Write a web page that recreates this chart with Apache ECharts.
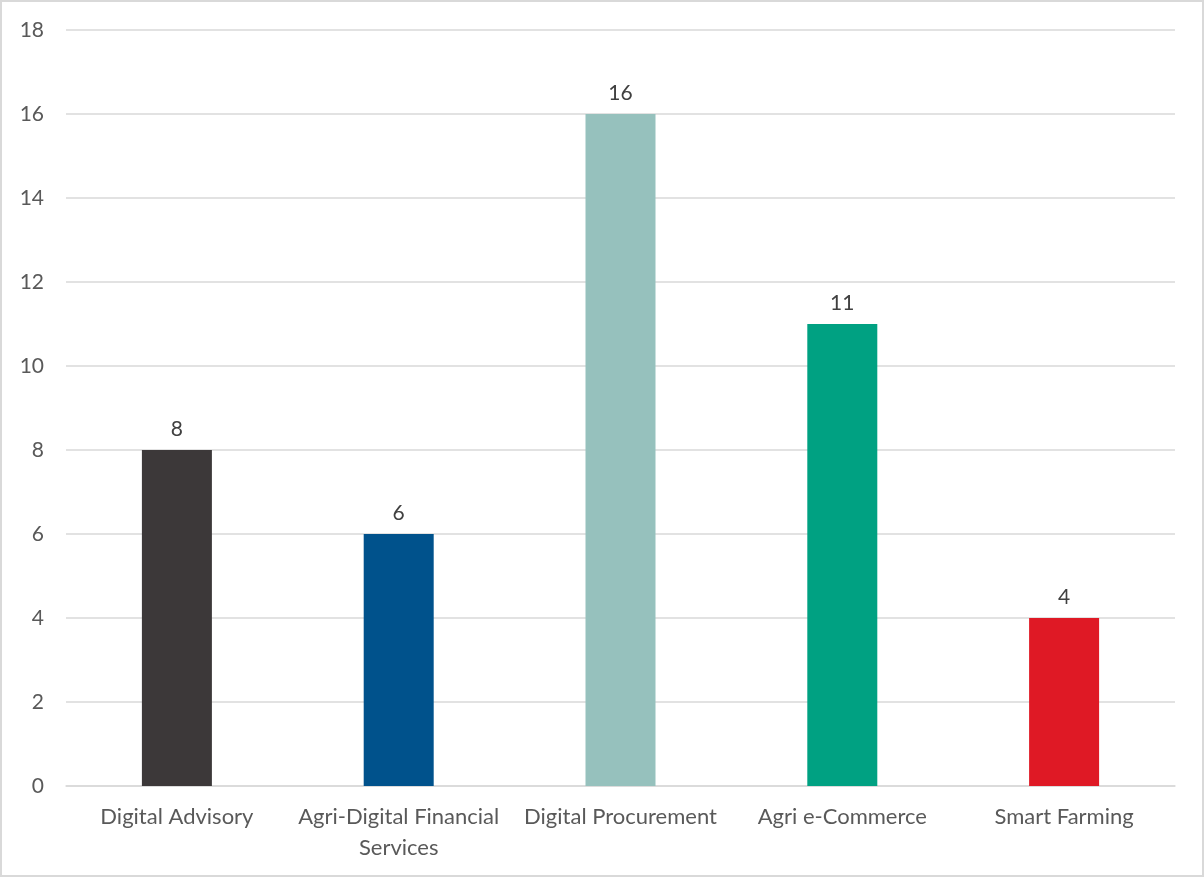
<!DOCTYPE html>
<html>
<head>
<meta charset="utf-8">
<script src="https://cdn.jsdelivr.net/npm/echarts@6/dist/echarts.min.js"></script>
<style>
  html, body { margin: 0; padding: 0; background: #fff; }
  #chart {
    width: 1204px;
    height: 877px;
    box-sizing: border-box;
    border: 2px solid #d9d9d9;
  }
</style>
</head>
<body>
<div id="chart"></div>
<script>
const categories = [
  "Digital Advisory",
  "Agri-Digital Financial\nServices",
  "Digital Procurement",
  "Agri e-Commerce",
  "Smart Farming"
];
const values = [8, 6, 16, 11, 4];
const barColors = ["#3c3839", "#00528c", "#96c1bd", "#00a182", "#df1925"];

const fontFamily = "Lato, 'Open Sans', sans-serif";

let myChart = echarts.init(document.getElementById("chart"));
let option = {
  animation: false,
  grid: {
    left: 64,
    right: 27,
    top: 28,
    bottom: 89,
  },
  xAxis: {
    type: "category",
    data: categories,
    axisLine: { show: true, lineStyle: { color: "#d9d9d9", width: 1.5 } },
    axisTick: { show: false },
    axisLabel: {
      color: "#595959",
      fontSize: 22,
      fontFamily: fontFamily,
      lineHeight: 31,
      margin: 15,
      interval: 0,
    },
  },
  yAxis: {
    type: "value",
    min: 0,
    max: 18,
    interval: 2,
    axisLine: { show: false },
    axisTick: { show: false },
    axisLabel: {
      color: "#595959",
      fontSize: 21,
      fontFamily: fontFamily,
      margin: 22,
    },
    splitLine: { lineStyle: { color: "#d9d9d9", width: 1.5 } },
  },
  series: [
    {
      type: "bar",
      barWidth: 70,
      data: values.map((v, i) => ({ value: v, itemStyle: { color: barColors[i] } })),
      label: {
        show: true,
        position: "top",
        distance: 10,
        color: "#404040",
        fontSize: 21,
        fontFamily: fontFamily,
      },
    },
  ],
};
myChart.setOption(option);
</script>
</body>
</html>
